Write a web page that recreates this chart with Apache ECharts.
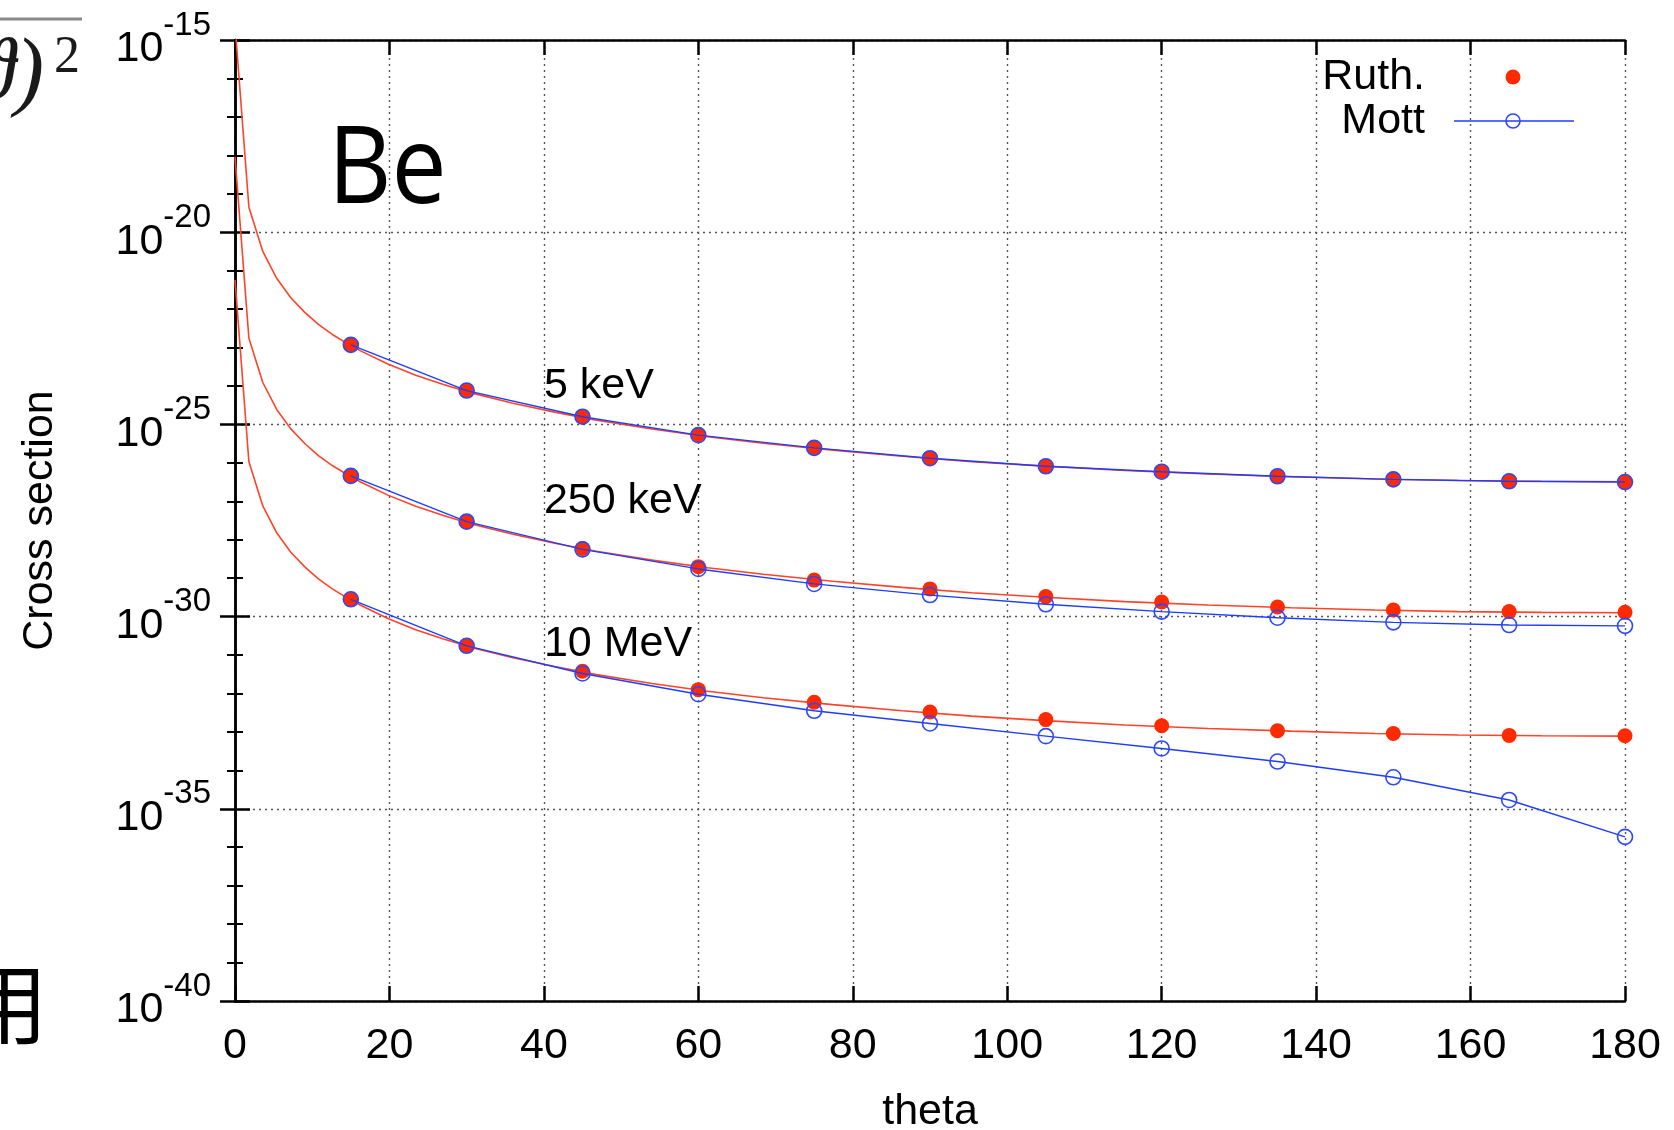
<!DOCTYPE html>
<html>
<head>
<meta charset="utf-8">
<script src="https://cdn.jsdelivr.net/npm/echarts@6/dist/echarts.min.js"></script>
<style>
  html, body { margin: 0; padding: 0; background: #fff; }
  #chart { width: 1674px; height: 1130px; }
</style>
</head>
<body>
<div id="chart"></div>
<script>
// scattering angles of the computed points (deg)
var theta = [15, 30, 45, 60, 75, 90, 105, 120, 135, 150, 165, 180];
// log10 of the cross section
var ruth5k   = [-22.93, -24.12, -24.80, -25.27, -25.61, -25.88, -26.08, -26.22, -26.34, -26.42, -26.47, -26.49];
var mott5k   = [-22.93, -24.12, -24.80, -25.28, -25.61, -25.88, -26.09, -26.23, -26.35, -26.43, -26.48, -26.50];
var ruth250k = [-26.34, -27.53, -28.23, -28.70, -29.05, -29.28, -29.48, -29.62, -29.75, -29.83, -29.87, -29.89];
var mott250k = [-26.34, -27.53, -28.25, -28.76, -29.15, -29.44, -29.68, -29.87, -30.03, -30.15, -30.22, -30.24];
var ruth10M  = [-29.55, -30.75, -31.42, -31.90, -32.23, -32.48, -32.68, -32.84, -32.97, -33.04, -33.09, -33.10];
var mott10M  = [-29.55, -30.76, -31.48, -32.02, -32.45, -32.78, -33.11, -33.43, -33.77, -34.18, -34.77, -35.73];

var thetaFine = [0, 1.8, 3.6, 5.4, 7.2, 9, 10.8, 12.6, 14.4, 16.2, 19.8, 23.4, 27, 30.6, 36, 41.4, 46.8,
                 54, 61.2, 68.4, 77.4, 86.4, 95.4, 104.4, 115.2, 126, 136.8, 147.6, 158.4, 169.2, 180];
var curve5k   = [-14.6, -19.35, -20.5, -21.2, -21.7, -22.08, -22.4, -22.66, -22.88, -23.08, -23.43, -23.72, -23.96,
                 -24.18, -24.45, -24.68, -24.89, -25.12, -25.32, -25.49, -25.67, -25.83, -25.97, -26.08, -26.2,
                 -26.29, -26.36, -26.42, -26.46, -26.48, -26.49];
var curve250k = [-18.04, -22.76, -23.91, -24.61, -25.11, -25.49, -25.81, -26.07, -26.29, -26.49, -26.84, -27.13,
                 -27.37, -27.59, -27.86, -28.09, -28.3, -28.53, -28.73, -28.9, -29.08, -29.24, -29.38, -29.49,
                 -29.61, -29.7, -29.77, -29.83, -29.87, -29.89, -29.9];
var curve10M  = [-21.24, -25.97, -27.12, -27.82, -28.32, -28.7, -29.02, -29.28, -29.5, -29.7, -30.05, -30.34,
                 -30.58, -30.8, -31.07, -31.3, -31.51, -31.74, -31.94, -32.11, -32.29, -32.45, -32.59, -32.7,
                 -32.82, -32.91, -32.98, -33.04, -33.08, -33.1, -33.11];

var energies = ['5 keV', '250 keV', '10 MeV'];
var energyAt = [[40, -24], [40, -27], [40, -30.72]];

var FONT = '"Liberation Sans", Arial, sans-serif';
var RED = '#ff2a00', RED_LINE = '#ff4328', BLUE = '#1e3cff';

function pairs(xs, ys) {
  return xs.map(function (x, i) { return [x, ys[i]]; });
}

var myChart = echarts.init(document.getElementById('chart'));

function curve(data) {
  return {
    type: 'line', data: pairs(thetaFine, data), showSymbol: false, symbol: 'none', z: 2,
    lineStyle: { color: RED_LINE, width: 1.6 }
  };
}
function ruth(data) {
  return {
    type: 'scatter', data: pairs(theta, data), symbol: 'circle', symbolSize: 15, z: 3,
    itemStyle: { color: RED, opacity: 1 }
  };
}
function mott(data) {
  return {
    type: 'line', data: pairs(theta, data), symbol: 'circle', symbolSize: 15, showSymbol: true, z: 4,
    lineStyle: { color: BLUE, width: 1.4 },
    itemStyle: { color: 'rgba(0,0,0,0)', borderColor: '#2a48ff', borderWidth: 1.6 }
  };
}

var axisLine = { show: true, lineStyle: { color: '#000', width: 2.5 } };
var tick = { show: true, inside: true, length: 15, lineStyle: { color: '#000', width: 2.5 } };
var minor = { show: true, splitNumber: 5, length: 8, lineStyle: { color: '#000', width: 2 } };
var grid = { show: true, lineStyle: { color: '#555', type: [2, 4], width: 1.4 } };

var option = {
  animation: false,
  backgroundColor: '#fff',
  grid: { left: 235, top: 40, width: 1390, height: 961, containLabel: false, outerBoundsMode: 'none' },
  xAxis: [{
    type: 'value', min: 0, max: 180, interval: 20, position: 'bottom',
    name: 'theta', nameLocation: 'middle', nameGap: 90,
    nameTextStyle: { fontSize: 43, fontFamily: FONT, color: '#000' },
    axisLine: axisLine, axisTick: tick, splitLine: grid,
    axisLabel: { fontSize: 43, fontFamily: FONT, color: '#000', margin: 24 }
  }, {
    type: 'value', min: 0, max: 180, interval: 20, position: 'top',
    axisLine: axisLine, axisTick: tick, splitLine: { show: false }, axisLabel: { show: false }
  }],
  yAxis: [{
    type: 'value', min: -40, max: -15, interval: 5, position: 'left',
    name: 'Cross section', nameLocation: 'middle', nameGap: 173, nameRotate: 90,
    nameTextStyle: { fontSize: 43, fontFamily: FONT, color: '#000' },
    axisLine: axisLine, axisTick: tick, minorTick: minor, splitLine: grid,
    axisLabel: {
      margin: 24, color: '#000',
      formatter: function (v) { return '{b|10}{s|' + v + '}'; },
      rich: {
        b: { fontSize: 43, fontFamily: FONT, color: '#000', lineHeight: 62, verticalAlign: 'bottom' },
        s: { fontSize: 33, fontFamily: FONT, color: '#000', lineHeight: 30, verticalAlign: 'top' }
      }
    }
  }, {
    type: 'value', min: -40, max: -15, interval: 5, position: 'right',
    axisLine: axisLine, axisTick: tick, minorTick: minor,
    splitLine: { show: false }, axisLabel: { show: false }
  }],
  series: [
    curve(curve5k), curve(curve250k), curve(curve10M),
    ruth(ruth5k), ruth(ruth250k), ruth(ruth10M),
    mott(mott5k), mott(mott250k), mott(mott10M),
    {
      type: 'scatter', symbolSize: 0, z: 5, silent: true,
      itemStyle: { opacity: 1 },
      data: energies.map(function (e, i) { return { name: e, value: energyAt[i] }; }),
      label: {
        show: true, position: 'right', distance: 0, formatter: '{b}', opacity: 1,
        fontSize: 43, fontFamily: FONT, color: '#000'
      }
    }
  ],
  graphic: [
    // element name
    { type: 'text', x: 328, y: 118, scaleX: 0.91, z: 10,
      style: { text: 'Be', fontSize: 108, fontFamily: '"Open Sans", sans-serif', fill: '#000',
        align: 'left', verticalAlign: 'top' } },
    // legend
    { type: 'text', x: 1425, y: 77, z: 10,
      style: { text: 'Ruth.', fontSize: 43, fontFamily: FONT, fill: '#000', align: 'right', verticalAlign: 'middle' } },
    { type: 'circle', shape: { cx: 1513, cy: 77, r: 7.5 }, z: 10, style: { fill: RED } },
    { type: 'text', x: 1425, y: 121, z: 10,
      style: { text: 'Mott', fontSize: 43, fontFamily: FONT, fill: '#000', align: 'right', verticalAlign: 'middle' } },
    { type: 'line', shape: { x1: 1454, y1: 121, x2: 1574, y2: 121 }, z: 10,
      style: { stroke: BLUE, lineWidth: 1.5 } },
    { type: 'circle', shape: { cx: 1513, cy: 121, r: 7 }, z: 10,
      style: { fill: 'none', stroke: '#2a48ff', lineWidth: 1.6 } },
    // cut-off pieces of the neighbouring slide
    { type: 'line', shape: { x1: 0, y1: 19, x2: 82, y2: 19 }, style: { stroke: '#8a8a8a', lineWidth: 3 } },
    { type: 'text', x: 44, y: 120, style: { text: '\u03d1)', fontSize: 88, fontStyle: 'italic',
      fontFamily: '"Liberation Serif", serif', fill: '#1a1a1a', align: 'right', verticalAlign: 'bottom' } },
    { type: 'text', x: 54, y: 84, style: { text: '2', fontSize: 52,
      fontFamily: '"Liberation Serif", serif', fill: '#1a1a1a', align: 'left', verticalAlign: 'bottom' } },
    { type: 'text', x: -40, y: 960, style: { text: '\u7528', fontSize: 88,
      fontFamily: '"Noto Sans CJK SC", sans-serif', fill: '#000', align: 'left', verticalAlign: 'top' } }
  ]
};

myChart.setOption(option);
window.addEventListener('resize', myChart.resize);
</script>
</body>
</html>
